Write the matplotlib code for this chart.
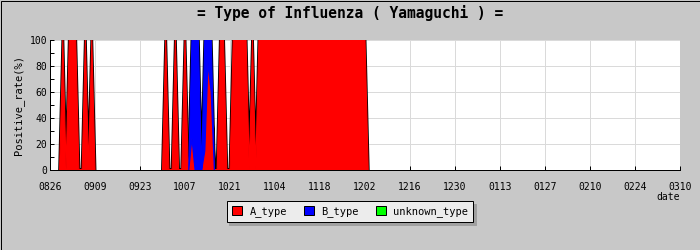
import matplotlib
matplotlib.use("Agg")
import matplotlib.pyplot as plt
from matplotlib.patches import Rectangle, Patch
import numpy as np

# Tick labels every 14 days, 08/26 through 03/10
tick_labels = ["0826", "0909", "0923", "1007", "1021", "1104", "1118", "1202",
               "1216", "1230", "0113", "0127", "0210", "0224", "0310"]
tick_step_days = 14

# Daily positive rate (%) by type, starting 08/26
a_type = [
    0, 0, 0, 0, 100, 0, 100, 100, 100, 0,
    0, 100, 0, 100, 0, 0, 0, 0, 0, 0,
    0, 0, 0, 0, 0, 0, 0, 0, 0, 0,
    0, 0, 0, 0, 0, 0, 100, 0, 0, 100,
    0, 0, 100, 0, 25, 0, 0, 0, 15, 83,
    60, 0, 0, 100, 100, 0, 0, 100, 100, 100,
    100, 100, 0, 100, 0, 100, 100, 100, 100, 100,
    100, 100, 100, 100, 100, 100, 100, 100, 100, 100,
    100, 100, 100, 100, 100, 100, 100, 100, 100, 100,
    100, 100, 100, 100, 100, 100, 100, 100, 100, 0,
]
b_type = [
    0, 0, 0, 0, 0, 0, 0, 0, 0, 0,
    0, 0, 0, 0, 0, 0, 0, 0, 0, 0,
    0, 0, 0, 0, 0, 0, 0, 0, 0, 0,
    0, 0, 0, 0, 0, 0, 0, 0, 0, 0,
    0, 0, 0, 0, 75, 100, 100, 0, 85, 17,
    40, 0, 0, 0, 0, 0, 0, 0, 0, 0,
    0, 0, 0, 0, 0, 0, 0, 0, 0, 0,
    0, 0, 0, 0, 0, 0, 0, 0, 0, 0,
    0, 0, 0, 0, 0, 0, 0, 0, 0, 0,
    0, 0, 0, 0, 0, 0, 0, 0, 0, 0,
]
# no unknown-type reports were recorded in this period

RED = "#ff0000"
BLUE = "#0000ff"
GREEN = "#00ff00"
BG = "#c8c8c8"
MONO = "DejaVu Sans Mono"

W, H = 700, 250
fig = plt.figure(figsize=(W / 100, H / 100), dpi=100, facecolor=BG)

ax = fig.add_axes([50 / W, 1 - 170 / H, 630 / W, 130 / H])
ax.set_facecolor("white")

days = np.arange(len(a_type))
a = np.array(a_type, dtype=float)
b = np.array(b_type, dtype=float)

px = 0.72  # one pixel in points


def active(v):
    """Days with a nonzero value or next to one, so ramps are included."""
    nz = v > 0
    m = nz.copy()
    m[1:] |= nz[:-1]
    m[:-1] |= nz[1:]
    return m


def band(lo, hi, color, mask):
    # black outline just outside, solid colour inside
    ax.fill_between(days, lo, hi, where=mask, facecolor="black", edgecolor="black",
                    linewidth=2.9 * px, zorder=3)
    ax.fill_between(days, lo, hi, where=mask, facecolor=color, edgecolor=color,
                    linewidth=1.2 * px, zorder=3.5)


band(0, a, RED, active(a))
band(a, a + b, BLUE, active(b))

n_ticks = len(tick_labels)
xticks = np.arange(n_ticks) * tick_step_days
ax.set_xlim(0, xticks[-1])
ax.set_ylim(0, 100)
ax.set_xticks(xticks)
ax.set_xticklabels(tick_labels, fontsize=7, family=MONO)
ax.set_yticks(np.arange(0, 101, 20))
ax.set_yticks(np.arange(10, 100, 20), minor=True)
ax.set_yticklabels([str(v) for v in range(0, 101, 20)], fontsize=7, family=MONO)

ax.tick_params(axis="x", direction="in", length=3, width=px, pad=9, colors="black",
               top=False)
ax.tick_params(axis="y", which="both", direction="in", length=3, width=px, pad=2,
               right=False)
for t in ax.xaxis.get_major_ticks():
    t.tick1line.set_zorder(6)

ax.grid(True, which="major", color="#dadada", linewidth=px, zorder=0)
ax.set_axisbelow(True)
for s in ("top", "right"):
    ax.spines[s].set_visible(False)
for s in ("left", "bottom"):
    ax.spines[s].set_linewidth(px)
    ax.spines[s].set_zorder(5)

ax.set_ylabel("Positive_rate(%)", fontsize=7.5, family=MONO, labelpad=4)

fig.text(0.5, 1 - 13 / H, "= Type of Influenza ( Yamaguchi ) =", ha="center",
         va="center", fontsize=10.5, family=MONO, fontweight="bold")
fig.text(668 / W, 1 - 197 / H, "date", ha="center", va="center", fontsize=7,
         family=MONO)

handles = [Patch(facecolor=RED, edgecolor="black", linewidth=px, label="A_type"),
           Patch(facecolor=BLUE, edgecolor="black", linewidth=px, label="B_type"),
           Patch(facecolor=GREEN, edgecolor="black", linewidth=px, label="unknown_type")]
leg = fig.legend(handles=handles, loc="center", bbox_to_anchor=(350 / W, 1 - 211.5 / H),
                 ncol=3, frameon=True, fancybox=False,
                 shadow={"color": "#a0a0a0", "alpha": 1},
                 prop={"family": MONO, "size": 7.5}, handlelength=1.0, handleheight=1.0,
                 handletextpad=0.7, columnspacing=1.6, borderpad=0.5, borderaxespad=0)
leg.get_frame().set_facecolor("#ececec")
leg.get_frame().set_edgecolor("black")
leg.get_frame().set_linewidth(px)
leg.get_frame().set_alpha(1)

fig.patches.append(Rectangle((0.5 / W, 0.5 / H), 1 - 1 / W, 1 - 1 / H,
                             transform=fig.transFigure, fill=False,
                             edgecolor="black", linewidth=px))

fig.savefig("out.png", dpi=100, facecolor=BG)
